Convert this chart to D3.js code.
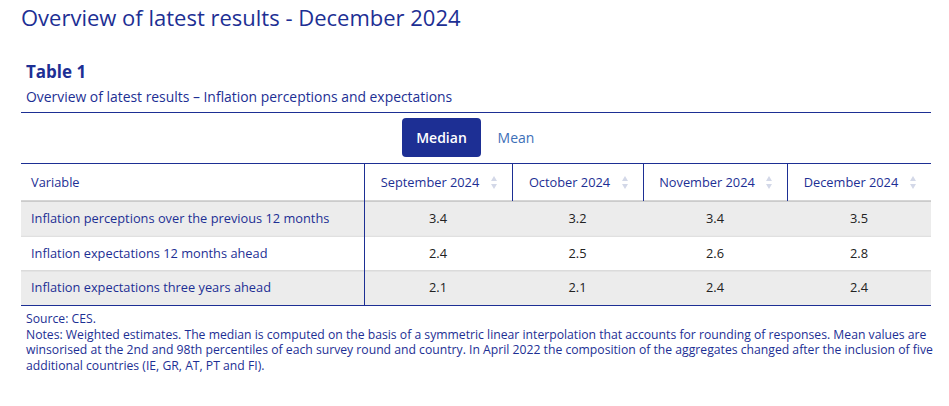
<!DOCTYPE html>
<html><head><meta charset="utf-8">
<script src="https://cdn.jsdelivr.net/npm/d3@7"></script>
<style>body{margin:0;background:#fff}text{font-family:"Open Sans","Noto Sans",sans-serif}</style>
</head><body><svg id="c" width="949" height="406"></svg>
<script>
const columns = ["September 2024","October 2024","November 2024","December 2024"];
const variables = ["Inflation perceptions over the previous 12 months","Inflation expectations 12 months ahead","Inflation expectations three years ahead"];
const sep = [3.4,2.4,2.1];
const oct = [3.2,2.5,2.1];
const nov = [3.4,2.6,2.4];
const dec = [3.5,2.8,2.4];
const series = [sep,oct,nov,dec];

const blue="#1d2f94", svg=d3.select("#c");
svg.append("text").attr("x",21).attr("y",26).attr("font-size",22).attr("fill",blue).text("Overview of latest results - December 2024");
svg.append("text").attr("x",26).attr("y",78).attr("font-size",17).attr("font-weight",700).attr("fill",blue).text("Table 1");
svg.append("text").attr("x",26).attr("y",102).attr("font-size",13.9).attr("fill",blue).text("Overview of latest results \u2013 Inflation perceptions and expectations");
svg.append("line").attr("x1",21).attr("x2",931).attr("y1",112.5).attr("y2",112.5).attr("stroke",blue);
svg.append("rect").attr("x",402).attr("y",118).attr("width",79).attr("height",39).attr("rx",4).attr("fill",blue);
svg.append("text").attr("x",441.5).attr("y",143).attr("text-anchor","middle").attr("font-size",14).attr("font-weight",600).attr("fill","#fff").text("Median");
svg.append("text").attr("x",516).attr("y",143).attr("text-anchor","middle").attr("font-size",14).attr("fill","#3d6fb8").text("Mean");

const edges=[21,364,512,643,787,931];
const rowY=d3.scaleBand().domain(variables).range([201,305]);
variables.forEach((v,i)=>{
  const y=rowY(v), h=rowY.bandwidth();
  svg.append("rect").attr("x",21).attr("y",y).attr("width",910).attr("height",h).attr("fill",i%2===0?"#ececec":"#fff");
  if(i>0) svg.append("line").attr("x1",21).attr("x2",931).attr("y1",y+0.5).attr("y2",y+0.5).attr("stroke","#d0d0d0");
  svg.append("text").attr("x",31).attr("y",y+h/2+4.5).attr("font-size",12.8).attr("fill",blue).text(v);
  columns.forEach((c,j)=>{
    const cx=(edges[j+1]+edges[j+2])/2;
    svg.append("text").attr("x",cx).attr("y",y+h/2+4.5).attr("text-anchor","middle").attr("font-size",12.8).attr("fill","#222").text(series[j][i].toFixed(1));
  });
});
svg.append("line").attr("x1",21).attr("x2",931).attr("y1",163.5).attr("y2",163.5).attr("stroke",blue);
svg.append("line").attr("x1",21).attr("x2",931).attr("y1",201).attr("y2",201).attr("stroke","#aaa");
svg.append("text").attr("x",31).attr("y",187).attr("font-size",12.8).attr("fill",blue).text("Variable");
columns.forEach((c,j)=>{
  const l=edges[j+1], r=edges[j+2], cx=(l+r)/2-8;
  svg.append("line").attr("x1",l+0.5).attr("x2",l+0.5).attr("y1",163).attr("y2",j===0?305:201).attr("stroke",blue);
  svg.append("text").attr("x",cx).attr("y",187).attr("text-anchor","middle").attr("font-size",12.8).attr("fill",blue).text(c);
  const ax=r-18;
  svg.append("path").attr("d",`M${ax-3},181 L${ax+3},181 L${ax},176 Z`).attr("fill","#d3d8e8");
  svg.append("path").attr("d",`M${ax-3},184 L${ax+3},184 L${ax},189 Z`).attr("fill","#d3d8e8");
});
svg.append("line").attr("x1",21).attr("x2",931).attr("y1",305.5).attr("y2",305.5).attr("stroke",blue);
const notes=["Source: CES.","Notes: Weighted estimates. The median is computed on the basis of a symmetric linear interpolation that accounts for rounding of responses. Mean values are","winsorised at the 2nd and 98th percentiles of each survey round and country. In April 2022 the composition of the aggregates changed after the inclusion of five","additional countries (IE, GR, AT, PT and FI)."];
notes.forEach((n,i)=>svg.append("text").attr("x",26).attr("y",323+i*15.5).attr("font-size",12.2).attr("fill",blue).text(n));
</script></body></html>
